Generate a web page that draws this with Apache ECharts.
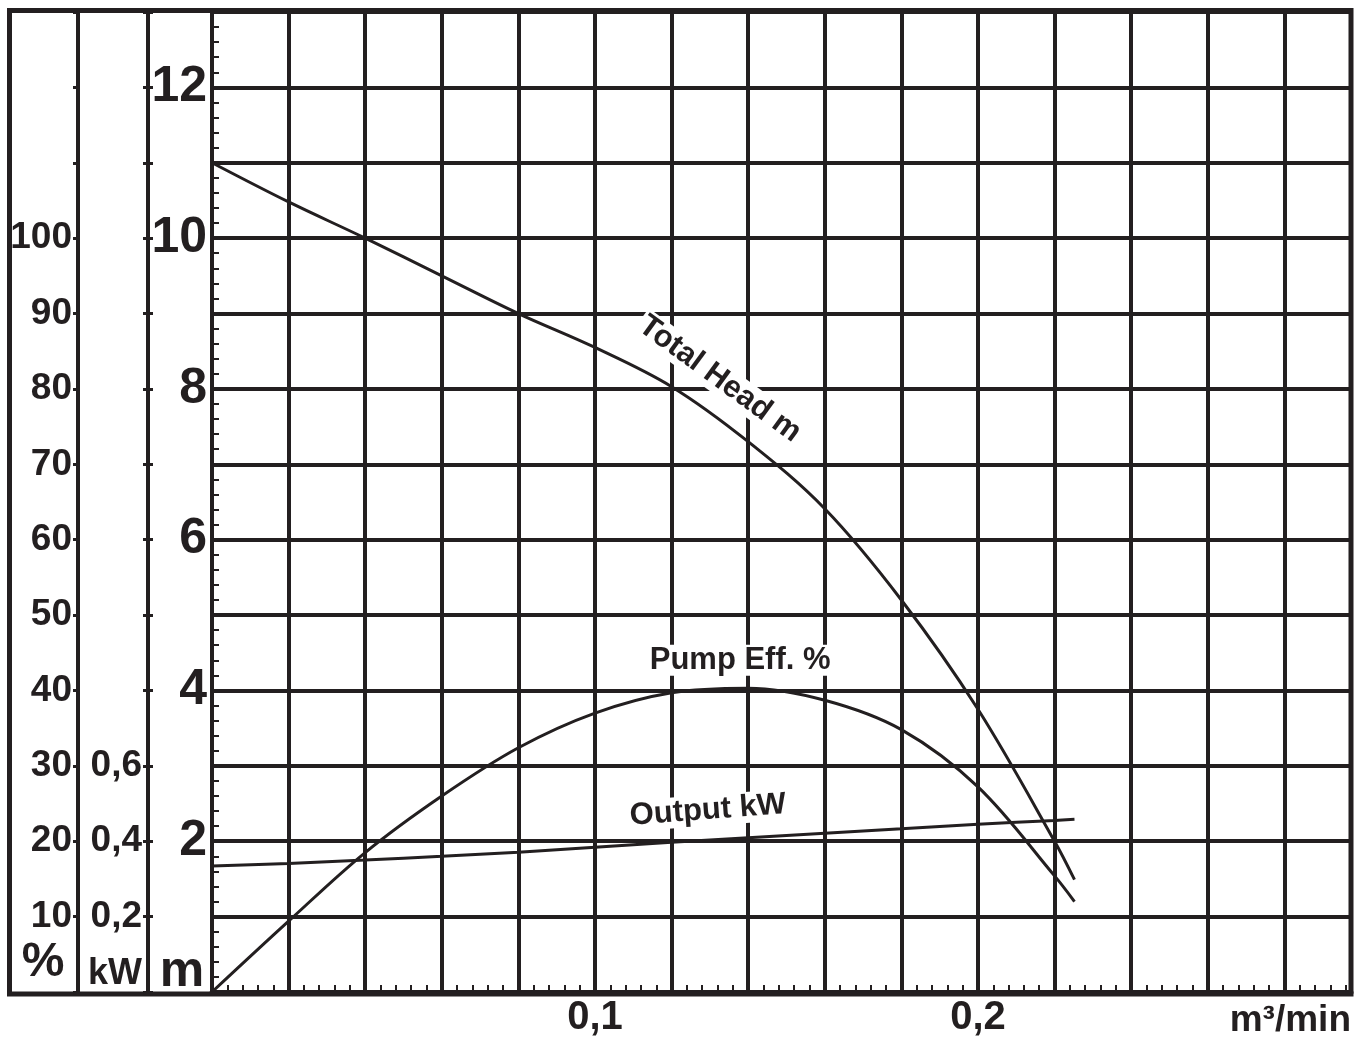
<!DOCTYPE html>
<html><head><meta charset="utf-8">
<script src="https://cdn.jsdelivr.net/npm/echarts@6/dist/echarts.min.js"></script>
<style>html,body{margin:0;padding:0;background:#fff}#c{width:1365px;height:1039px}</style>
</head><body><div id="c"></div>
<script>
// Flow rate (m³/min)
const flow = [0, 0.02, 0.04, 0.06, 0.08, 0.10, 0.12, 0.14, 0.16, 0.18, 0.20, 0.22, 0.2252];
// Total head (m)
const headM = [11.0, 10.48, 10.0, 9.5, 9.0, 8.55, 8.03, 7.3, 6.41, 5.2, 3.75, 2.0, 1.49];
// Pump efficiency (%)
const effPct = [0, 9.4, 18.5, 26.0, 32.4, 37.0, 39.7, 40.3, 38.7, 34.8, 27.2, 15.4, 12.0];
// Output (kW)
const outputKW = [0.334, 0.341, 0.350, 0.360, 0.371, 0.384, 0.397, 0.409, 0.421, 0.433, 0.445, 0.455, 0.458];
// Tick labels
const xTickLabels = {0.1: '0,1', 0.2: '0,2'};
const mTickLabels = [2, 4, 6, 8, 10, 12];
const pctTickLabels = [10, 20, 30, 40, 50, 60, 70, 80, 90, 100];
const kwTickLabels = ['0,2', '0,4', '0,6'];
// Curve label anchors (data coordinates: flow, m)
const curveLabels = [
  {text: 'Total Head m', at: [0.1326, 8.13], rot: -0.63},
  {text: 'Pump Eff. %', at: [0.1379, 4.40], rot: 0},
  {text: 'Output kW', at: [0.1295, 2.41], rot: 0.075}
];

const INK = '#231f20';
const FONT = '"Liberation Sans", Arial, Helvetica, sans-serif';
const chart = echarts.init(document.getElementById('c'), null, {renderer: 'canvas'});

function near(a, b) { return Math.abs(a - b) < 1e-6; }

const gridL = 212, gridR = 14, gridT = 12, gridB = 45;

const option = {
  backgroundColor: '#fff',
  animation: false,
  grid: {left: gridL, right: gridR, top: gridT, bottom: gridB, containLabel: false},
  xAxis: {
    type: 'value', min: 0, max: 0.2974, interval: 0.02,
    axisLine: {show: true, lineStyle: {color: INK, width: 5}},
    axisTick: {show: false, inside: true},
    minorTick: {show: true, splitNumber: 5, length: 7, lineStyle: {color: INK, width: 2}},
    splitLine: {show: true, lineStyle: {color: INK, width: 4}},
    axisLabel: {
      margin: 6, color: INK, fontFamily: FONT, fontWeight: 'bold', fontSize: 40,
      formatter: function (v) {
        for (const k in xTickLabels) { if (near(v, +k)) return xTickLabels[k]; }
        return '';
      }
    },
    name: 'm³/min', nameLocation: 'end', nameGap: 0,
    nameTextStyle: {color: INK, fontFamily: FONT, fontWeight: 'bold', fontSize: 37, align: 'right', verticalAlign: 'top', padding: [10, 0, 0, 0]}
  },
  yAxis: [
    { // m
      type: 'value', min: 0, max: 13, interval: 1, position: 'left', offset: 0,
      axisLine: {show: true, onZero: false, lineStyle: {color: INK, width: 4}},
      axisTick: {show: false, inside: true},
      minorTick: {show: true, splitNumber: 5, length: 7, lineStyle: {color: INK, width: 2}},
      splitLine: {show: true, lineStyle: {color: INK, width: 4}},
      axisLabel: {
        margin: 5, color: INK, fontFamily: FONT, fontWeight: 'bold', fontSize: 50,
        formatter: function (v) { return mTickLabels.some(t => near(t, v)) ? String(v) : ''; }
      }
    },
    { // %
      type: 'value', min: 0, max: 130, interval: 10, position: 'left', offset: 134,
      axisLine: {show: true, onZero: false, lineStyle: {color: INK, width: 4}},
      axisTick: {show: true, length: 5, lineStyle: {color: INK, width: 3}},
      splitLine: {show: false},
      axisLabel: {
        margin: 6, color: INK, fontFamily: FONT, fontWeight: 'bold', fontSize: 37,
        formatter: function (v) { return pctTickLabels.some(t => near(t, v)) ? String(Math.round(v)) : ''; }
      }
    },
    { // kW
      type: 'value', min: 0, max: 2.6, interval: 0.2, position: 'left', offset: 64,
      axisLine: {show: true, onZero: false, lineStyle: {color: INK, width: 4}},
      axisTick: {show: true, length: 5, lineStyle: {color: INK, width: 3}},
      splitLine: {show: false},
      axisLabel: {
        margin: 6, color: INK, fontFamily: FONT, fontWeight: 'bold', fontSize: 37,
        formatter: function (v) {
          const s = v.toFixed(1).replace('.', ',');
          return kwTickLabels.indexOf(s) >= 0 ? s : '';
        }
      }
    },
    { // % inner ticks
      type: 'value', min: 0, max: 130, interval: 10, position: 'left', offset: 134,
      axisLine: {show: false}, axisTick: {show: true, inside: true, length: 5, lineStyle: {color: INK, width: 3}},
      splitLine: {show: false}, axisLabel: {show: false}
    },
    { // kW inner ticks
      type: 'value', min: 0, max: 2.6, interval: 0.2, position: 'left', offset: 64,
      axisLine: {show: false}, axisTick: {show: true, inside: true, length: 5, lineStyle: {color: INK, width: 3}},
      splitLine: {show: false}, axisLabel: {show: false}
    }
  ],
  series: [
    {name: 'Total Head m', type: 'line', yAxisIndex: 0, smooth: 0.35, showSymbol: false, symbol: 'none',
     lineStyle: {color: INK, width: 3}, data: flow.map((x, i) => [x, headM[i]]), z: 5},
    {name: 'Pump Eff. %', type: 'line', yAxisIndex: 1, smooth: 0.35, showSymbol: false, symbol: 'none',
     lineStyle: {color: INK, width: 3}, data: flow.map((x, i) => [x, effPct[i]]), z: 5},
    {name: 'Output kW', type: 'line', yAxisIndex: 2, smooth: 0.35, showSymbol: false, symbol: 'none',
     lineStyle: {color: INK, width: 3}, data: flow.map((x, i) => [x, outputKW[i]]), z: 5}
  ]
};
chart.setOption(option);

const gfx = [
  {type: 'rect', z: 10, shape: {x: 9.5, y: 10.5, width: 1341.5, height: 983.5},
   style: {fill: null, stroke: INK, lineWidth: 5}},
  {type: 'text', z: 10, x: 43, y: 987, style: {text: '%', fill: INK, font: 'bold 48px ' + FONT, textAlign: 'center', textVerticalAlign: 'bottom'}},
  {type: 'text', z: 10, x: 115, y: 992, style: {text: 'kW', fill: INK, font: 'bold 36px ' + FONT, textAlign: 'center', textVerticalAlign: 'bottom'}},
  {type: 'text', z: 10, x: 182, y: 997, style: {text: 'm', fill: INK, font: 'bold 50px ' + FONT, textAlign: 'center', textVerticalAlign: 'bottom'}}
];
curveLabels.forEach(function (c) {
  const p = chart.convertToPixel({xAxisIndex: 0, yAxisIndex: 0}, c.at);
  gfx.push({type: 'text', z: 20, x: p[0], y: p[1], rotation: c.rot,
    style: {text: c.text, fill: INK, font: 'bold 31px ' + FONT, textAlign: 'center', textVerticalAlign: 'middle',
      backgroundColor: '#fff', padding: [0, 3]}});
});
chart.setOption({graphic: gfx});
</script>
</body></html>
